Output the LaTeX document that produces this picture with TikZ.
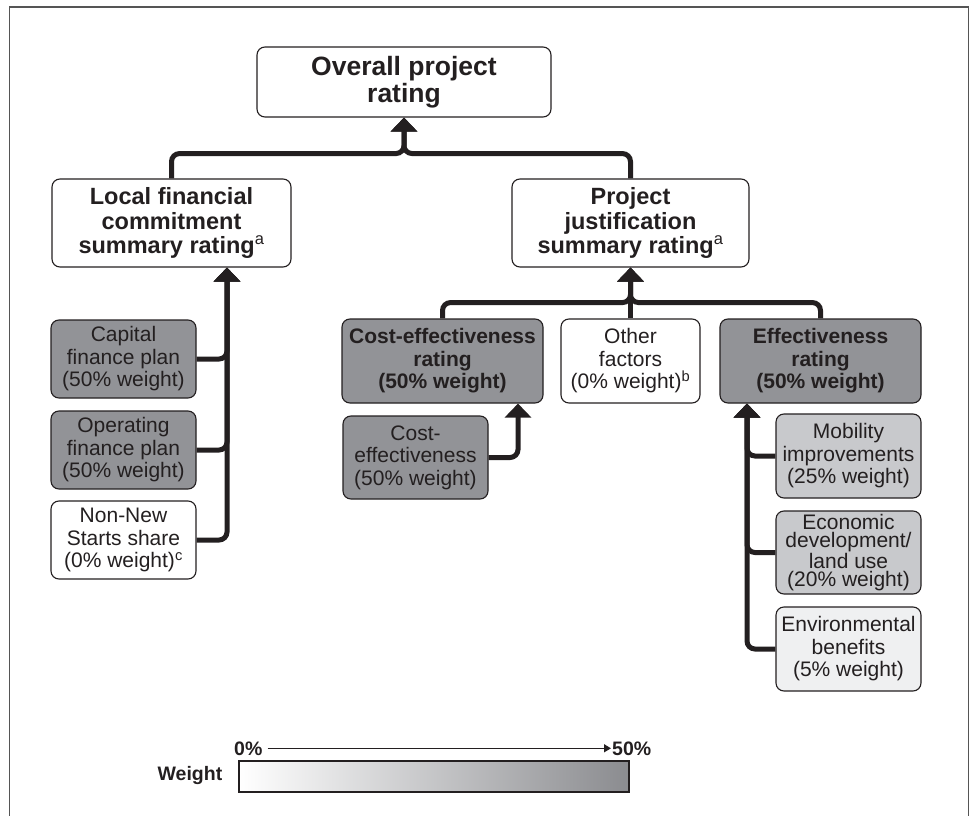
\documentclass[tikz,border=0pt]{standalone}
\usepackage{fontspec}
\setmainfont{Liberation Sans}
\usetikzlibrary{arrows.meta,calc}
\definecolor{LineClr}{RGB}{35,31,32}
\definecolor{FrameClr}{RGB}{85,85,85}
\definecolor{DarkClr}{RGB}{146,147,151}
\definecolor{MidClr}{RGB}{200,201,204}
\definecolor{PaleClr}{RGB}{239,240,241}
\newcommand{\topfont}{\fontsize{26.5}{27}\selectfont\bfseries}
\newcommand{\headfont}{\fontsize{23.5}{24.5}\selectfont\bfseries}
\newcommand{\boxfont}{\fontsize{21}{22.5}\selectfont}
\newcommand{\tightfont}{\fontsize{21}{18.6}\selectfont}
\newcommand{\lgdfont}{\fontsize{19.5}{20}\selectfont\bfseries}

\begin{document}
\begin{tikzpicture}[x=1pt,y=-1pt,
  box/.style={draw=LineClr,line width=1.1pt,rounded corners=8pt,align=center,
    inner sep=0pt,text=LineClr,minimum width=145pt,minimum height=78pt,font=\boxfont},
  conn/.style={draw=LineClr,line width=5pt,rounded corners=8pt,
    -{Triangle[width=26pt,length=14pt]}},
  lgd/.style={inner sep=0pt,text=LineClr,font=\lgdfont}]
\clip (0,0) rectangle (975,816);
\draw[FrameClr,line width=1.4pt] (9.5,830) -- (9.5,7) -- (968.5,7) -- (968.5,830);

% rating boxes
\node[box,font=\topfont,minimum width=294pt,minimum height=70pt] (overall) at (404,82)
  {Overall project\\rating};
\node[box,font=\headfont,minimum width=239pt,minimum height=88pt] (local) at (171.5,223)
  {Local financial\\commitment\\summary rating\textsuperscript{\normalfont a}};
\node[box,font=\headfont,minimum width=237pt,minimum height=88pt] (project) at (630.5,223)
  {Project\\justification\\summary rating\textsuperscript{\normalfont a}};

% local financial commitment
\node[box,fill=DarkClr] (capital) at (123.5,359) {Capital\\finance plan\\(50\% weight)};
\node[box,fill=DarkClr] (operating) at (123.5,450) {Operating\\finance plan\\(50\% weight)};
\node[box] (nonnew) at (123.5,540) {Non-New\\Starts share\\(0\% weight)\textsuperscript{c}};

% project justification
\node[box,fill=DarkClr,font=\boxfont\bfseries,minimum width=201pt,minimum height=84pt] (costrating) at (442.5,361)
  {Cost-effectiveness\\rating\\(50\% weight)};
\node[box,minimum width=139pt,minimum height=84pt] (other) at (630.5,361)
  {Other\\factors\\(0\% weight)\textsuperscript{b}};
\node[box,fill=DarkClr,font=\boxfont\bfseries,minimum width=201pt,minimum height=84pt] (effrating) at (820.5,361)
  {Effectiveness\\rating\\(50\% weight)};
\node[box,fill=DarkClr,minimum height=83pt] (costeff) at (415.5,457.5)
  {Cost-\\effectiveness\\(50\% weight)};
\node[box,fill=MidClr,minimum height=84pt] (mobility) at (848.5,456)
  {Mobility\\improvements\\(25\% weight)};
\node[box,fill=MidClr,minimum height=83pt,font=\tightfont] (economic) at (848.5,552.5)
  {Economic\\development/\\land use\\(20\% weight)};
\node[box,fill=PaleClr,minimum height=84pt] (environ) at (848.5,649)
  {Environmental\\benefits\\(5\% weight)};

% connectors
\coordinate (topjoin) at ($(overall.south)+(0,36)$);
\draw[conn] (local.north) |- (topjoin) -- (overall.south);
\draw[conn] (project.north) |- (topjoin) -- (overall.south);

\coordinate (ltip) at ($(local.south)+(55.5,0)$);
\draw[conn] (capital.east) -| (ltip);
\draw[conn] (operating.east) -| (ltip);
\draw[conn] (nonnew.east) -| (ltip);

\coordinate (pjoin) at ($(project.south)+(0,35)$);
\draw[conn] (costrating.north) |- (pjoin) -- (project.south);
\draw[conn] (effrating.north) |- (pjoin) -- (project.south);
\draw[conn] (other.north) -- (project.south);

\coordinate (ctip) at ($(costrating.south)+(75.5,0)$);
\draw[conn] (costeff.east) -| (ctip);

\coordinate (etip) at ($(effrating.south)+(-73.5,0)$);
\draw[conn] (mobility.west) -| (etip);
\draw[conn] (economic.west) -| (etip);
\draw[conn] (environ.west) -| (etip);

% weight legend
\node[draw=LineClr,line width=1.1pt,left color=white,right color=DarkClr!95!black,
  minimum width=390pt,minimum height=31pt,inner sep=0pt] (bar) at (434,776.5) {};
\node[lgd,anchor=east] (wlabel) at ($(bar.west)+(-16,-1)$) {Weight};
\node[lgd,anchor=base west] (zero) at (234,755) {0\%};
\node[lgd,anchor=base west] (fifty) at (612,755) {50\%};
\draw[LineClr,line width=1.4pt,shorten <=5pt,shorten >=1pt,
  -{Triangle[width=8pt,length=7pt]}] (zero.east) -- (fifty.west);
\end{tikzpicture}
\end{document}
